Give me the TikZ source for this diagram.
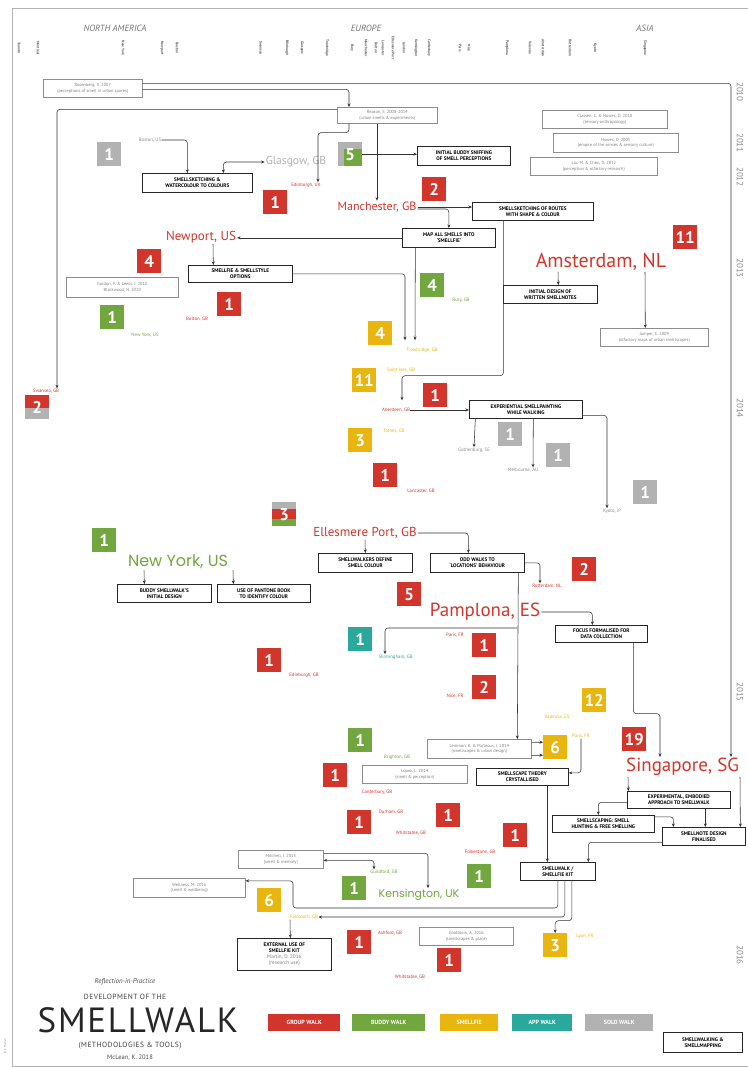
\documentclass[tikz,border=0pt]{standalone}
\usepackage{fontspec}
\setmainfont{PT Sans}
\newfontfamily\geofont{Poppins}
\usetikzlibrary{arrows.meta}
\definecolor{cred}{HTML}{D2352B}
\definecolor{cgreen}{HTML}{72A63E}
\definecolor{cyel}{HTML}{E8B60F}
\definecolor{cteal}{HTML}{2BA89C}
\definecolor{cgray}{HTML}{B2B2B2}
\newcommand\BoxAt[6]{\node[#1,anchor=north west,minimum width={#4-#2},minimum height={#5-#3}] (#6) at (#2,#3)}
\newcommand\SqAt[4]{\node[#1,anchor=north west] (#2) at (#3,#4)}
\begin{document}
\begin{tikzpicture}[x=1pt,y=-1pt,
  sq/.style={minimum width=24pt,minimum height=24pt,inner sep=0pt,text=white,font=\fontsize{17}{17}\selectfont\bfseries},
  sqR/.style={sq,fill=cred},
  sqG/.style={sq,fill=cgreen},
  sqY/.style={sq,fill=cyel},
  sqT/.style={sq,fill=cteal},
  sqS/.style={sq,fill=cgray},
  bx/.style={draw=black!85,line width=0.7pt,inner sep=0.5pt,align=center,font=\fontsize{5.2}{6}\selectfont\bfseries},
  cit/.style={draw=black!45,line width=0.6pt,inner sep=0.5pt,align=center,text=black!50,font=\fontsize{4.4}{5.6}\selectfont},
  lb/.style={inner sep=0.4pt,font=\fontsize{4.8}{5}\selectfont},
  city/.style={inner sep=1pt},
  cn/.style={draw=black!80,line width=0.55pt,rounded corners=3pt,-{Stealth[length=3.5pt,width=3pt]}},
  cnb/.style={cn,{Stealth[length=3.5pt,width=3pt]}-{Stealth[length=3.5pt,width=3pt]}},
  leg/.style={inner sep=0pt,text=white,font=\fontsize{6}{6}\selectfont\bfseries},
  yr/.style={rotate=-90,text=black!45,font=\fontsize{9}{9}\selectfont},
  tick/.style={rotate=-90,text=black!65,inner sep=0pt,font=\fontsize{3.6}{4}\selectfont\bfseries}
]
\useasboundingbox (0,0) rectangle (747,1067);
\fill[white] (0,0) rectangle (747,1067);
\draw[black!30,line width=0.6pt] (12,8) rectangle (800,1066);

% header
\node[text=black!55,font=\fontsize{9}{9}\selectfont\itshape] (hna) at (115,28) {NORTH AMERICA};
\node[text=black!55,font=\fontsize{9}{9}\selectfont\itshape] (heu) at (366,28) {EUROPE};
\node[text=black!55,font=\fontsize{9}{9}\selectfont\itshape] (has) at (645,28) {ASIA};
\foreach \xx/\nm in {19/Toronto,38/Montreal,123/New York,162/Newport,177/Boston,261/Swansea,287/Edinburgh,302/Glasgow,327/Trowbridge,352/Bury,366/Manchester,376/Bolton,383/Lancaster,393/Ellesmere Port,404/London,416/Kensington,429/Canterbury,460/Paris,469/Nice,507/Pamplona,530/Valencia,543/Amsterdam,570/Rotterdam,595/Kyoto,645/Singapore}
  \node[tick] at (\xx,48) {\nm};

% years
\node[yr] (y10) at (740,92) {2010};
\node[yr] (y11) at (740,143) {2011};
\node[yr] (y12) at (740,177) {2012};
\node[yr] (y13) at (740,268) {2013};
\node[yr] (y14) at (740,408) {2014};
\node[yr] (y15) at (740,692) {2015};
\node[yr] (y16) at (740,955) {2016};

% citation boxes
\BoxAt{cit}{43}{79}{142}{97}{c1}{Rosenberg, X. 2007\\(perceptions of smell in urban spaces)};
\BoxAt{cit}{337}{107}{437}{123}{c2}{Reason, S. 2008-2014\\(urban smells \& experiments)};
\BoxAt{cit}{542}{110}{667}{128}{c3}{Classen, C. \& Howes, D. 2010\\(sensory anthropology)};
\BoxAt{cit}{553}{133}{678}{152}{c4}{Howes, D. 2005\\(empire of the senses \& sensory culture)};
\BoxAt{cit}{530}{157}{657}{175}{c5}{Liu, M. \& Chen, D. 2012\\(perception \& olfactory research)};
\BoxAt{cit}{66}{277}{178}{297}{c6}{Gordon, P. \& Lewis, J. 2010\\Blackwood, N. 2010};
\BoxAt{cit}{600}{328}{708}{346}{c7}{Jumper, C. 2009\\(olfactory maps of urban smellscapes)};
\BoxAt{cit}{427}{739}{531}{758}{c8}{Lemmon, K. \& Porteous, J. 2014\\(smellscapes \& urban design)};
\BoxAt{cit}{362}{765}{467}{783}{c9}{Lopez, L. 2014\\(smell \& perception)};
\BoxAt{cit}{238}{850}{323}{868}{c10}{Mitchell, J. 2015\\(smell \& memory)};
\BoxAt{cit}{133}{878}{245}{897}{c11}{Wellness, M. 2016\\(smell \& wellbeing)};
\BoxAt{cit}{419}{927}{513}{945}{c12}{Goldblum, A. 2016\\(smellscapes \& place)};

% method boxes
\BoxAt{bx}{142}{173}{252}{192}{b1}{SMELLSKETCHING \&\\WATERCOLOUR TO COLOURS};
\BoxAt{bx}{417}{146}{510}{165}{b2}{INITIAL BUDDY SNIFFING\\OF SMELL PERCEPTIONS};
\BoxAt{bx}{472}{202}{593}{220}{b3}{SMELLSKETCHING OF ROUTES\\WITH SHAPE \& COLOUR};
\BoxAt{bx}{402}{228}{495}{247}{b4}{MAP ALL SMELLS INTO\\`SMELLFIE'};
\BoxAt{bx}{188}{265}{292}{282}{b5}{SMELLFIE \& SMELLSTYLE\\OPTIONS};
\BoxAt{bx}{503}{285}{597}{303}{b6}{INITIAL DESIGN OF\\WRITTEN SMELLNOTES};
\BoxAt{bx}{469}{400}{582}{418}{b7}{EXPERIENTIAL SMELLPAINTING\\WHILE WALKING};
\BoxAt{bx}{318}{553}{412}{572}{b8}{SMELLWALKERS DEFINE\\SMELL COLOUR};
\BoxAt{bx}{430}{553}{524}{572}{b9}{ODD WALKS TO\\`LOCATIONS' BEHAVIOUR};
\BoxAt{bx}{117}{584}{211}{602}{b10}{BUDDY SMELLWALK'S\\INITIAL DESIGN};
\BoxAt{bx}{217}{584}{310}{602}{b11}{USE OF PANTONE BOOK\\TO IDENTIFY COLOUR};
\BoxAt{bx}{555}{625}{647}{642}{b12}{FOCUS FORMALISED FOR\\DATA COLLECTION};
\BoxAt{bx}{476}{768}{568}{785}{b13}{SMELLSCAPE THEORY\\CRYSTALLISED};
\BoxAt{bx}{627}{791}{730}{808}{b14}{EXPERIMENTAL, EMBODIED\\APPROACH TO SMELLWALK};
\BoxAt{bx}{552}{815}{654}{832}{b15}{SMELLSCAPING: SMELL\\HUNTING \& FREE SMELLING};
\BoxAt{bx}{662}{827}{745}{845}{b16}{SMELLNOTE DESIGN\\FINALISED};
\BoxAt{bx}{520}{862}{595}{880}{b17}{SMELLWALK /\\SMELLFIE KIT};
\BoxAt{bx}{237}{938}{331}{970}{b18}{EXTERNAL USE OF\\SMELLFIE KIT\\{\mdseries\color{black!50}Martin, D. 2016}\\{\mdseries\color{black!50}(research use)}};
\BoxAt{bx}{663}{1032}{742}{1052}{b19}{SMELLWALKING \&\\SMELLMAPPING};

% squares
\SqAt{sqS}{s1}{97}{142}{1};
\SqAt{sqG,path picture={\fill[cgray] (path picture bounding box.north west) rectangle ([yshift=-7pt]path picture bounding box.north east);\fill[cgray] (path picture bounding box.north west) rectangle ([xshift=6pt]path picture bounding box.south west);}}{s2}{338}{142}{5};
\SqAt{sqR}{s3}{263}{190}{1};
\SqAt{sqR}{s4}{422}{177}{2};
\SqAt{sqR}{s5}{137}{249}{4};
\SqAt{sqR}{s6}{673}{225}{11};
\SqAt{sqR}{s7}{217}{292}{1};
\SqAt{sqG}{s8}{100}{305}{1};
\SqAt{sqG}{s9}{420}{273}{4};
\SqAt{sqY}{s10}{368}{321}{4};
\SqAt{sqY}{s11}{352}{368}{11};
\SqAt{sqR}{s12}{423}{383}{1};
\SqAt{sqS}{s13}{498}{422}{1};
\SqAt{sqS}{s14}{546}{443}{1};
\SqAt{sqS}{s15}{633}{480}{1};
\SqAt{sqY}{s16}{348}{428}{3};
\SqAt{sqR}{s17}{373}{463}{1};
\SqAt{sqR,path picture={\fill[cgray] (path picture bounding box.south west) rectangle ([yshift=11pt]path picture bounding box.south east);}}{s18}{25}{395}{2};
\SqAt{sqR,path picture={\fill[cgray] (path picture bounding box.north west) rectangle ([yshift=-7pt]path picture bounding box.north east);\fill[cgreen] (path picture bounding box.south west) rectangle ([yshift=7pt]path picture bounding box.south east);}}{s19}{272}{502}{3};
\SqAt{sqG}{s20}{92}{528}{1};
\SqAt{sqR}{s21}{572}{557}{2};
\SqAt{sqR}{s22}{397}{582}{5};
\SqAt{sqT}{s23}{348}{627}{1};
\SqAt{sqR}{s24}{472}{633}{1};
\SqAt{sqR}{s25}{257}{648}{1};
\SqAt{sqR}{s26}{472}{675}{2};
\SqAt{sqY}{s27}{582}{688}{12};
\SqAt{sqR}{s28}{622}{727}{19};
\SqAt{sqY}{s29}{543}{735}{6};
\SqAt{sqG}{s30}{348}{728}{1};
\SqAt{sqR}{s31}{323}{763}{1};
\SqAt{sqR}{s32}{347}{810}{1};
\SqAt{sqR}{s33}{436}{803}{1};
\SqAt{sqR}{s34}{503}{823}{1};
\SqAt{sqG}{s35}{342}{876}{1};
\SqAt{sqG}{s36}{467}{864}{1};
\SqAt{sqY}{s37}{257}{888}{6};
\SqAt{sqR}{s38}{347}{930}{1};
\SqAt{sqR}{s39}{437}{948}{1};
\SqAt{sqY}{s40}{543}{933}{3};

% big city labels
\node[city,text=cgray,font=\fontsize{11.5}{11.5}\selectfont] (gla) at (296,162) {Glasgow, GB};
\node[city,text=cred,font=\fontsize{12}{12}\selectfont] (man) at (377,207) {Manchester, GB};
\node[city,text=cred,font=\fontsize{13}{13}\selectfont] (newp) at (201,237) {Newport, US};
\node[city,text=cred,font=\fontsize{20}{20}\selectfont] (ams) at (601,262) {Amsterdam, NL};
\node[city,text=cgreen,font=\geofont\fontsize{16}{16}\selectfont] (nyc) at (178,562) {New York, US};
\node[city,text=cred,font=\fontsize{13}{13}\selectfont] (ell) at (365,533) {Ellesmere Port, GB};
\node[city,text=cred,font=\fontsize{19}{19}\selectfont] (pam) at (485,612) {Pamplona, ES};
\node[city,anchor=west,text=cred,font=\fontsize{19}{19}\selectfont] (sing) at (625,767) {Singapore, SG};
\node[city,text=cgreen,font=\geofont\fontsize{11}{11}\selectfont] (ken) at (419,895) {Kensington, UK};

% small place labels
\node[lb,text=black!45] (bos) at (150,140) {Boston, US};
\node[lb,text=cred] (edl) at (306,185) {Edinburgh, UK};
\node[lb,text=cred] (swl) at (46,391) {Swansea, GB};
\node[lb,text=cred] (bol) at (197,319) {Bolton, GB};
\node[lb,text=cgreen] (nyl) at (145,335) {New York, US};
\node[lb,text=cgreen] (bul) at (461,300) {Bury, GB};
\node[lb,text=cyel] (trl) at (422,350) {Trowbridge, GB};
\node[lb,text=cyel] (sil) at (401,370) {Saint Ives, GB};
\node[lb,text=cred] (abl) at (396,410) {Aberdeen, GB};
\node[lb,text=black!45] (gol) at (474,450) {Gothenburg, SE};
\node[lb,text=black!45] (mel) at (523,470) {Melbourne, AU};
\node[lb,text=black!45] (kyl) at (612,511) {Kyoto, JP};
\node[lb,text=cyel] (tol) at (394,431) {Totnes, GB};
\node[lb,text=cred] (lal) at (421,491) {Lancaster, GB};
\node[lb,text=cred] (rol) at (547,586) {Rotterdam, NL};
\node[lb,text=cred] (pa1) at (455,635) {Paris, FR};
\node[lb,text=cteal] (bil) at (396,657) {Birmingham, GB};
\node[lb,text=cred] (ed2) at (304,675) {Edinburgh, GB};
\node[lb,text=cred] (nil) at (455,696) {Nice, FR};
\node[lb,text=cyel] (val) at (557,717) {Valencia, ES};
\node[lb,text=cyel] (pal) at (581,736) {Paris, FR};
\node[lb,text=cgreen] (brl) at (397,757) {Brighton, GB};
\node[lb,text=cred] (cal) at (377,792) {Canterbury, GB};
\node[lb,text=cred] (dul) at (391,812) {Durham, GB};
\node[lb,text=cred] (whl) at (411,833) {Whitstable, GB};
\node[lb,text=cred] (fol) at (480,852) {Folkestone, GB};
\node[lb,text=cgreen] (gul) at (384,872) {Guildford, GB};
\node[lb,text=cyel] (fal) at (304,917) {Falmouth, GB};
\node[lb,text=cred] (asl) at (390,933) {Ashford, GB};
\node[lb,text=cred] (wh2) at (410,977) {Whitstable, GB};
\node[lb,text=cyel] (lyl) at (585,936) {Lyon, FR};

% connectors
\draw[cn] ([yshift=5pt]c1.east) -| ([xshift=106pt]sing.north west);
\draw[cn] ([yshift=-1pt]c1.east) -| ([xshift=12pt]c2.north west);
\draw[cn] ([yshift=6pt]c2.west) -| ([xshift=11pt]swl.north);
\draw[cn] ([xshift=12pt]c2.south west) -- ++(0,9) -| ([xshift=12pt]edl.north);
\draw[cn] (c2.south -| man.north) -- (man.north);
\draw[cn] (bos.east) -| ([xshift=-10pt]b1.north);
\draw[cnb] (gla.west) -| ([xshift=26pt]b1.north);
\draw[cn] (s2.east) -- (s2.east -| b2.west);
\draw[cn] (man.east) -- (man.east -| b3.west);
\draw[cn] ([yshift=-2pt]man.east) -| (b4.north);
\draw[cn] (b4.west) -- (b4.west -| newp.east);
\draw[cn] ([xshift=12pt]newp.south) -- ([xshift=-27pt]b5.north);
\draw[cn] (b5.east) -| ([xshift=-17pt,yshift=7pt]trl.north);
\draw[cn] ([xshift=-33.5pt]b4.south) -- ([xshift=-7pt,yshift=7pt]trl.north);
\draw[cn] ([xshift=-29.5pt]b3.south) -- ++(0,155) -| ([xshift=6pt,yshift=7pt]abl.north);
\draw[cn] ([xshift=-43pt]ams.south) -- ([xshift=8pt]b6.north);
\draw[cn] ([xshift=44pt]ams.south) -- ([xshift=-9pt]c7.north);
\draw[cn] (abl.east) -- (abl.east -| b7.west);
\draw[cn] ([xshift=-50.5pt]b7.south) -- (gol.north);
\draw[cn] ([xshift=7.5pt]b7.south) -- ([xshift=10pt]mel.north);
\draw[cn] ([yshift=-6pt]b7.east) -| ([xshift=-5pt]kyl.north);
\draw[cn] (ell.east) -| ([xshift=-9pt]b9.north);
\draw[cn] (ell.south) -- (b8.north);
\draw[cn] (b9.east) -| ([xshift=-7pt]rol.north);
\draw[cn] ([xshift=41pt]b9.south) -- ([xshift=38pt]c8.north);
\coordinate (jn) at (517,628);
\draw[cn] (jn) -| ([xshift=-11pt]bil.north);
\draw[cn] (pam.east) -| ([xshift=-9pt]b12.north);
\draw[cn] ([xshift=32pt]b12.south) -- ++(0,71) -| ([xshift=35pt]sing.north west);
\draw[cn] ([xshift=-34pt]nyc.south) -- ([xshift=-20pt]b10.north);
\draw[cn] ([xshift=55pt]nyc.south) -- ([xshift=-30.5pt]b11.north);
\draw[cn] ([yshift=6.5pt]c8.east) -- ([yshift=5pt]s29.west);
\draw[cn] ([yshift=-6.5pt]c8.east) -- ([yshift=-8pt]s29.west);
\draw[cn] (pal.south) |- ([yshift=4pt]b13.east);
\draw[cn] ([xshift=3pt]sing.south west) -- ([xshift=-50.5pt]b14.north);
\draw[cn] ([yshift=-2.5pt]b14.west) -| ([xshift=-5pt]b15.north);
\draw[cn] ([yshift=7pt]b15.east) -| ([xshift=-30.5pt]b16.north);
\draw[cn] ([xshift=26.5pt]b14.south) -- ([xshift=1.5pt]b16.north);
\draw[cn] ([xshift=115pt]sing.south west) -- ([xshift=36.5pt]b16.north);
\draw[cn] ([yshift=-6pt]b16.west) -| ([xshift=30.5pt]b17.north);
\draw[cn] ([xshift=25pt]b13.south) -- ([xshift=-10.5pt]b17.north);
\draw[cn] (b17.south) |- (293,908) |- ([yshift=7pt]c11.east);
\draw[cn] ([xshift=7pt]b17.south) |- (fal.east);
\draw[cn] ([xshift=14pt]b17.south) -- ++(0,40) -| (s40.north);
\draw[cn] ([xshift=-14pt]fal.south) -- ([xshift=6pt]b18.north);
\draw[cn] ([yshift=6pt]c10.east) -| ([xshift=9pt]ken.north);
\draw[cnb] ([yshift=-1pt]c10.east) -| ([xshift=-10pt]gul.north);

% title
\node[text=black!70,font=\fontsize{7}{7}\selectfont\itshape] (t1) at (125,982) {Reflection-in-Practice};
\node[text=black!75,font=\fontsize{7.5}{7.5}\selectfont\addfontfeature{LetterSpace=6}] (t2) at (125,997) {DEVELOPMENT OF THE};
\node[text=black!85,font=\fontsize{35}{35}\selectfont\addfontfeature{LetterSpace=5}] (t3) at (138,1020) {SMELLWALK};
\node[text=black!75,font=\fontsize{7.5}{7.5}\selectfont\addfontfeature{LetterSpace=6}] (t4) at (130,1046) {(METHODOLOGIES \& TOOLS)};
\node[text=black!70,font=\fontsize{6.5}{6.5}\selectfont] (t5) at (130,1058) {McLean, K. 2018};
\node[rotate=90,text=black!50,inner sep=0pt,font=\fontsize{2.6}{3}\selectfont] (cr) at (5,1046) {\copyright\ K. McLean};

% legend
\BoxAt{leg,fill=cred}{268}{1014}{340}{1031}{lg1}{GROUP WALK};
\BoxAt{leg,fill=cgreen}{352}{1014}{425}{1031}{lg2}{BUDDY WALK};
\BoxAt{leg,fill=cyel}{440}{1014}{498}{1031}{lg3}{SMELLFIE};
\BoxAt{leg,fill=cteal}{512}{1014}{572}{1031}{lg4}{APP WALK};
\BoxAt{leg,fill=cgray}{585}{1014}{653}{1031}{lg5}{SOLO WALK};
\end{tikzpicture}
\end{document}
